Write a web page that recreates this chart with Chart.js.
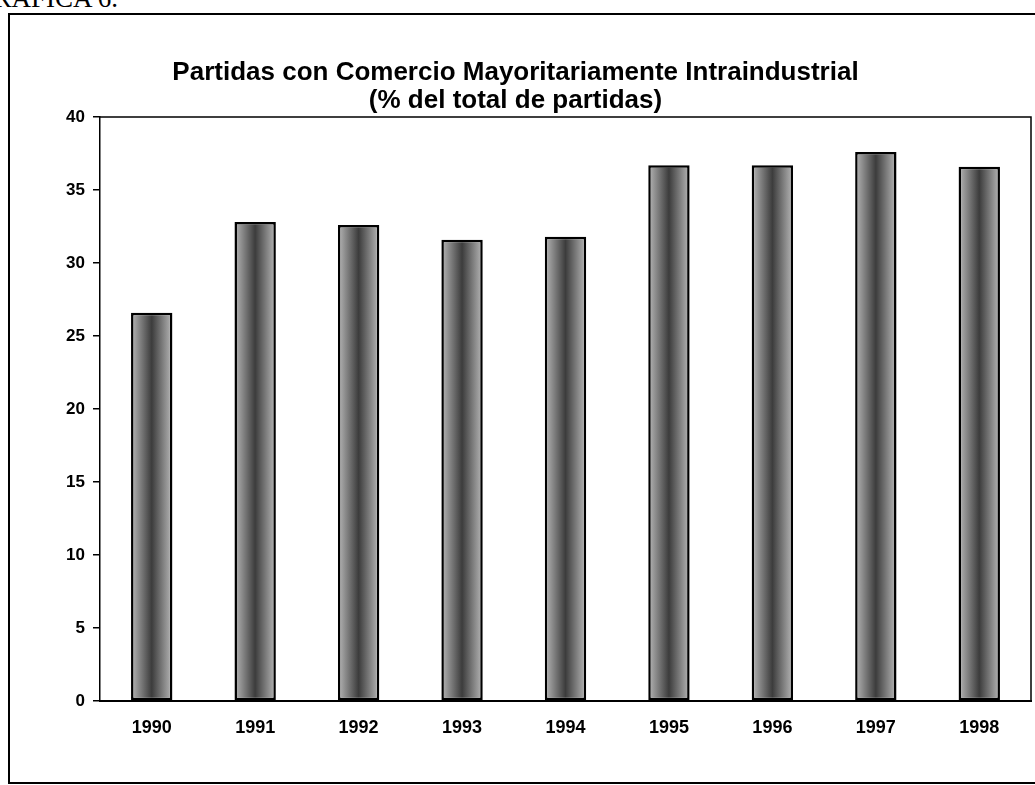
<!DOCTYPE html>
<html><head><meta charset="utf-8">
<script src="https://cdn.jsdelivr.net/npm/chart.js@4"></script>
<style>
html,body{margin:0;padding:0;background:#fff;overflow:hidden}
#wrap{position:relative;width:1035px;height:785px;overflow:hidden}
#frame{position:absolute;left:8px;top:13px;width:1040px;height:771px;border:2px solid #000;box-sizing:border-box}
#head{position:absolute;left:-26px;top:-17px;font:27px "Liberation Serif",serif;color:#000;white-space:nowrap}
canvas{position:absolute;left:0;top:0}
</style></head>
<body><div id="wrap"><div id="head">GRAFICA 6.</div><div id="frame"></div><canvas id="c" width="1035" height="785"></canvas></div>
<script>
const years = ["1990","1991","1992","1993","1994","1995","1996","1997","1998"];
const shares = [26.6, 32.8, 32.6, 31.6, 31.8, 36.7, 36.7, 37.6, 36.6];
const titleLines = ["Partidas con Comercio Mayoritariamente Intraindustrial", "(% del total de partidas)"];
const yTicks = [0,5,10,15,20,25,30,35,40];

const plotFrame = {
  id: 'plotFrame',
  afterDatasetsDraw(chart) {
    const {ctx, chartArea: a} = chart;
    ctx.save();
    ctx.strokeStyle = '#000';
    ctx.lineWidth = 1.5;
    ctx.beginPath();
    ctx.moveTo(a.left, a.top);
    ctx.lineTo(a.right, a.top);
    ctx.lineTo(a.right, a.bottom);
    ctx.stroke();
    ctx.restore();
  }
};

new Chart(document.getElementById('c'), {
  type: 'bar',
  data: {
    labels: years,
    datasets: [{
      data: shares,
      backgroundColor: (c) => {
        const chart = c.chart, xs = chart.scales && chart.scales.x;
        if (!xs || c.dataIndex === undefined || !chart.chartArea) return '#666';
        const cx = xs.getPixelForValue(c.dataIndex);
        const w = (xs.width / years.length) * 0.4;
        const g = chart.ctx.createLinearGradient(cx - w / 2, 0, cx + w / 2, 0);
        g.addColorStop(0, '#b8b8b8');
        g.addColorStop(0.5, '#3c3c3c');
        g.addColorStop(1, '#b8b8b8');
        return g;
      },
      borderColor: '#000',
      borderWidth: 2.5,
      borderSkipped: false,
      barPercentage: 0.4,
      categoryPercentage: 1.0
    }]
  },
  options: {
    responsive: false,
    devicePixelRatio: 1,
    animation: false,
    layout: {padding: {left: 0, right: 4, top: 59, bottom: 0}},
    plugins: {
      legend: {display: false},
      tooltip: {enabled: false},
      title: {
        display: true,
        text: titleLines,
        color: '#000',
        font: {family: '"Liberation Sans", Arial, sans-serif', size: 26, weight: 'bold', lineHeight: 28 / 26},
        padding: {top: 0, bottom: 2}
      }
    },
    scales: {
      x: {
        type: 'category',
        grid: {display: false, drawTicks: false},
        border: {display: true, color: '#000', width: 2},
        ticks: {color: '#000', padding: 16, font: {family: '"Liberation Sans", Arial, sans-serif', size: 18, weight: 'bold'}},
        afterFit: (s) => { s.height = 84; }
      },
      y: {
        min: 0, max: 40,
        afterBuildTicks: (s) => { s.ticks = yTicks.map(v => ({value: v})); },
        grid: {display: true, drawOnChartArea: false, drawTicks: true, tickLength: 7, color: '#000', lineWidth: 1.5},
        border: {display: true, color: '#000', width: 1.5},
        ticks: {color: '#000', padding: 8, font: {family: '"Liberation Sans", Arial, sans-serif', size: 17, weight: 'bold'}},
        afterFit: (s) => { s.width = 100; }
      }
    }
  },
  plugins: [plotFrame]
});
</script>
</body></html>
